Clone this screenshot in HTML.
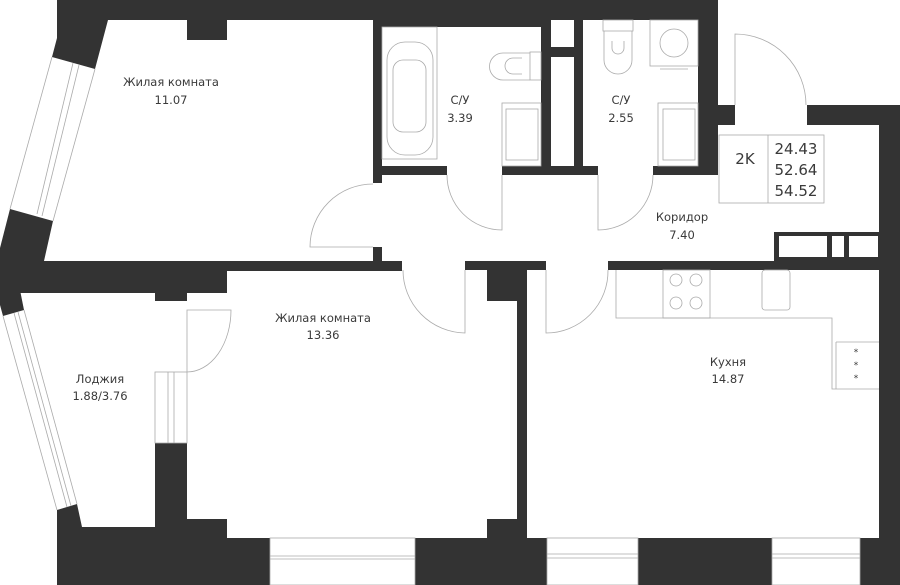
<!DOCTYPE html>
<html><head><meta charset="utf-8"><style>
html,body{margin:0;padding:0;background:#fff;}
svg{display:block;}
text{font-family:"DejaVu Sans","Liberation Sans",sans-serif;fill:#3a3a3a;font-size:11.5px;text-anchor:middle;}
</style></head><body>
<svg width="900" height="585" viewBox="0 0 900 585" xmlns="http://www.w3.org/2000/svg">
<g fill="#333">
<!-- top wall -->
<rect x="57" y="0" width="661" height="20"/>
<polygon points="57,0 108,0 108,20 95,69 52,57 57,38"/>
<rect x="187" y="20" width="40" height="20"/>
<!-- left lower chunk upper room -->
<polygon points="10,209 53,221 44,261 0,261 0,248"/>
<rect x="0" y="261" width="402" height="10"/>
<rect x="0" y="270" width="227" height="23"/>
<rect x="155" y="290" width="32" height="11"/>
<polygon points="0,290 20,290 24,310 3,316 0,305"/>
<!-- room 11.07 right wall -->
<rect x="373" y="20" width="9" height="163"/>
<rect x="373" y="247" width="9" height="20"/>
<!-- bath 3.39 top -->
<rect x="382" y="20" width="164" height="7"/>
<!-- partitions -->
<rect x="541" y="20" width="10" height="155"/>
<rect x="574" y="20" width="9" height="155"/>
<rect x="541" y="47" width="42" height="10"/>
<rect x="373" y="166" width="74" height="9"/>
<rect x="502" y="166" width="96" height="9"/>
<rect x="653" y="166" width="65" height="9"/>
<!-- right upper walls -->
<rect x="698" y="20" width="20" height="155"/>
<rect x="708" y="105" width="27" height="20"/>
<rect x="708" y="105" width="10" height="70"/>
<rect x="807" y="105" width="93" height="20"/>
<rect x="879" y="105" width="21" height="480"/>
<!-- closet -->
<rect x="774" y="232" width="105" height="29"/>
<!-- kitchen top wall -->
<rect x="608" y="261" width="292" height="9"/>
<rect x="465" y="261" width="81" height="9"/>
<rect x="487" y="261" width="40" height="40"/>
<rect x="517" y="261" width="10" height="277"/>
<rect x="487" y="519" width="40" height="19"/>
<!-- loggia/room walls -->
<rect x="155" y="443" width="32" height="95"/>
<rect x="155" y="519" width="72" height="19"/>
<polygon points="57,510 77,504 82,527 155,527 155,538 270,538 270,585 57,585"/>
<rect x="415" y="538" width="132" height="47"/>
<rect x="638" y="538" width="134" height="47"/>
<rect x="860" y="538" width="40" height="47"/>
</g>
<g fill="#fff">
<rect x="779" y="236" width="48" height="21"/>
<rect x="832" y="236" width="12" height="21"/>
<rect x="849" y="236" width="29" height="21"/>
<rect x="551" y="57" width="23" height="109"/>
</g>
<g fill="none" stroke="#aaa" stroke-width="0.8">
<!-- left slanted window -->
<line x1="52" y1="57" x2="10" y2="209"/><line x1="95" y1="69" x2="53" y2="221"/>
<line x1="73" y1="63" x2="37" y2="214"/><line x1="79" y1="65" x2="42" y2="216"/>
<!-- loggia window -->
<line x1="3" y1="316" x2="57" y2="510"/><line x1="24" y1="310" x2="77" y2="504"/>
<line x1="14" y1="313" x2="67" y2="507"/><line x1="18" y1="312" x2="71" y2="506"/>
<!-- loggia inner window -->
<rect x="155" y="372" width="32" height="71"/><line x1="168" y1="372" x2="168" y2="443"/><line x1="174" y1="372" x2="174" y2="443"/>
<!-- bottom windows -->
<rect x="270" y="538" width="145" height="47"/><line x1="270" y1="556" x2="415" y2="556"/><line x1="270" y1="559" x2="415" y2="559"/>
<rect x="547" y="538" width="91" height="47"/><line x1="547" y1="554" x2="638" y2="554"/><line x1="547" y1="558" x2="638" y2="558"/>
<rect x="772" y="538" width="88" height="47"/><line x1="772" y1="554" x2="860" y2="554"/><line x1="772" y1="558" x2="860" y2="558"/>
<!-- doors -->
<path d="M373 184 A63 63 0 0 0 310 247 L373 247"/>
<path d="M447 175 A55 55 0 0 0 502 230 L502 175"/>
<path d="M653 175 A55 55 0 0 1 598 230 L598 175"/>
<path d="M735 105 L735 34 A71 71 0 0 1 806 105"/>
<path d="M403 270 A63 63 0 0 0 465 333 L465 270"/>
<path d="M608 270 A62 62 0 0 1 546 333 L546 270"/>
<path d="M187 372 L187 310 L231 310 A44 62 0 0 1 187 372"/>
<!-- bathtub -->
<rect x="382" y="27" width="55" height="132"/>
<rect x="387" y="42" width="46" height="113" rx="18"/>
<rect x="393" y="60" width="33" height="72" rx="10"/>
<!-- toilet 3.39 -->
<rect x="530" y="52" width="11" height="28"/>
<path d="M530 53 L503 53 A13 13 0 0 0 503 80 L530 80"/>
<path d="M522 58 L513 58 A8 8 0 0 0 513 74 L522 74"/>
<!-- sinks -->
<rect x="502" y="103" width="39" height="63"/><rect x="506" y="109" width="32" height="51"/>
<rect x="658" y="103" width="40" height="63"/><rect x="663" y="109" width="32" height="51"/>
<!-- toilet 2.55 -->
<rect x="603" y="20" width="30" height="11"/>
<path d="M604 31 L604 60 A14 14 0 0 0 632 60 L632 31"/>
<path d="M612 41 L612 48 A6 6 0 0 0 624 48 L624 41"/>
<!-- washing machine -->
<rect x="650" y="20" width="48" height="46"/><circle cx="674" cy="43" r="14"/>
<line x1="660" y1="69" x2="688" y2="69"/>
<!-- info box -->
<rect x="719" y="135" width="105" height="68"/><line x1="768" y1="135" x2="768" y2="203"/>
<!-- kitchen counter -->
<path d="M616 270 L616 318 L832 318 L832 389 L879 389"/>
<line x1="836" y1="342" x2="879" y2="342"/><line x1="836" y1="342" x2="836" y2="389"/>
<rect x="663" y="270" width="47" height="48"/>
<circle cx="676" cy="280" r="6"/><circle cx="696" cy="280" r="6"/>
<circle cx="676" cy="303" r="6"/><circle cx="696" cy="303" r="6"/>
<rect x="762" y="270" width="28" height="40" rx="3"/>
</g>
<g>
<text x="171" y="86">Жилая комната</text><text x="171" y="104">11.07</text>
<text x="460" y="104">С/У</text><text x="460" y="122">3.39</text>
<text x="621" y="104">С/У</text><text x="621" y="122">2.55</text>
<text x="682" y="221">Коридор</text><text x="682" y="239">7.40</text>
<text x="323" y="322">Жилая комната</text><text x="323" y="339">13.36</text>
<text x="100" y="383">Лоджия</text><text x="100" y="400">1.88/3.76</text>
<text x="728" y="366">Кухня</text><text x="728" y="383">14.87</text>
<text x="745" y="164" style="font-size:15px">2K</text>
<text x="796" y="154" style="font-size:15px">24.43</text>
<text x="796" y="175" style="font-size:15px">52.64</text>
<text x="796" y="196" style="font-size:15px">54.52</text>
<text x="856" y="355" style="font-size:9px">*</text>
<text x="856" y="368" style="font-size:9px">*</text>
<text x="856" y="381" style="font-size:9px">*</text>
</g>
</svg>
</body></html>
